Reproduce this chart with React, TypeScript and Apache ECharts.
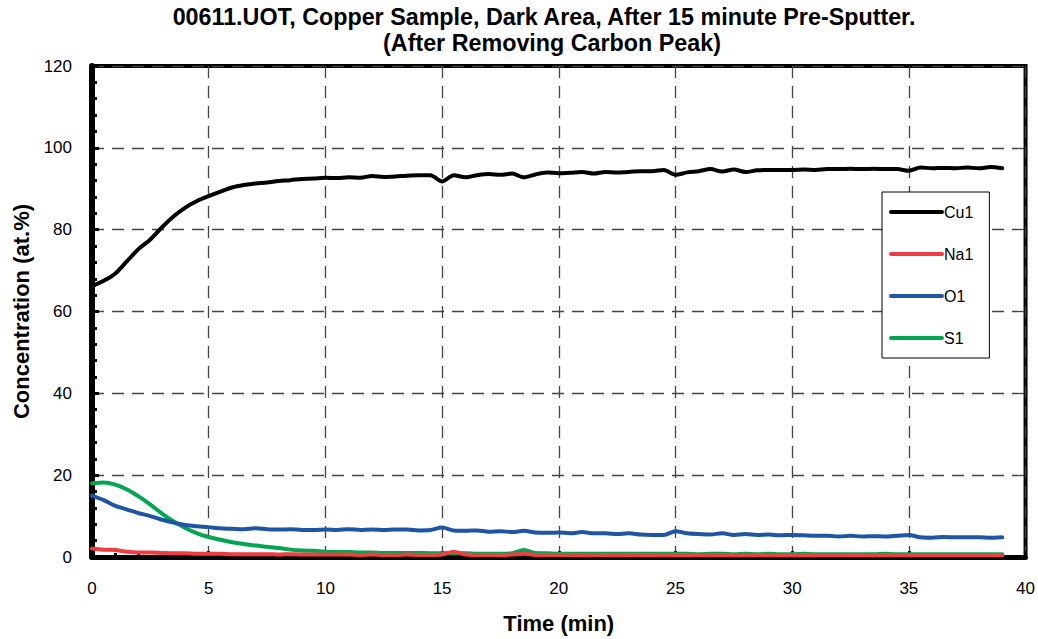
import React, { useEffect, useRef } from "react";
import * as echarts from "echarts";

const TITLE_LINE1 = "00611.UOT, Copper Sample, Dark Area, After 15 minute Pre-Sputter.";
const TITLE_LINE2 = "(After Removing Carbon Peak)";
const X_NAME = "Time (min)";
const Y_NAME = "Concentration (at.%)";
const STEP_MIN = 0.5;

const cu1 = [
  66.2, 67.5, 69.3, 72.3, 75.3, 77.6, 80.6, 83.3, 85.4, 87.0,
  88.2, 89.3, 90.3, 90.9, 91.3, 91.5, 91.9, 92.1, 92.4, 92.5,
  92.7, 92.6, 92.8, 92.7, 93.1, 92.9, 93.0, 93.2, 93.3, 93.3,
  91.8, 93.3, 92.8, 93.3, 93.6, 93.4, 93.7, 92.8, 93.5, 94.0,
  93.8, 93.9, 94.1, 93.7, 94.1, 94.0, 94.1, 94.3, 94.3, 94.6,
  93.4, 94.0, 94.3, 94.8, 94.2, 94.7, 94.1, 94.5, 94.6, 94.6,
  94.6, 94.7, 94.6, 94.8, 94.8, 94.9, 94.8, 94.9, 94.8, 94.8,
  94.4, 95.2, 95.0, 95.1, 95.0, 95.2, 95.0, 95.3, 95.0,
];
const na1 = [
  2.1, 1.8, 1.7, 1.3, 1.1, 1.1, 1.0, 0.9, 0.9, 0.8,
  0.8, 0.8, 0.7, 0.7, 0.7, 0.7, 0.6, 0.7, 0.6, 0.6,
  0.6, 0.6, 0.6, 0.5, 0.6, 0.5, 0.5, 0.6, 0.5, 0.5,
  0.6, 1.3, 0.6, 0.5, 0.5, 0.5, 0.6, 0.8, 0.5, 0.5,
  0.5, 0.5, 0.4, 0.5, 0.5, 0.4, 0.5, 0.4, 0.4, 0.5,
  0.4, 0.4, 0.5, 0.4, 0.4, 0.4, 0.4, 0.5, 0.4, 0.4,
  0.4, 0.4, 0.4, 0.4, 0.4, 0.4, 0.4, 0.4, 0.4, 0.4,
  0.4, 0.4, 0.4, 0.4, 0.4, 0.4, 0.4, 0.4, 0.4,
];
const o1 = [
  15.0, 13.9, 12.5, 11.6, 10.7, 10.0, 9.1, 8.4, 7.8, 7.5,
  7.3, 7.0, 6.9, 6.8, 7.0, 6.8, 6.7, 6.8, 6.6, 6.6,
  6.7, 6.6, 6.8, 6.6, 6.7, 6.6, 6.7, 6.7, 6.5, 6.6,
  7.2, 6.5, 6.4, 6.5, 6.2, 6.3, 6.1, 6.4, 6.0, 5.9,
  6.0, 5.8, 6.1, 5.8, 5.8, 5.6, 5.8, 5.5, 5.4, 5.4,
  6.3, 5.8, 5.6, 5.5, 5.8, 5.4, 5.6, 5.4, 5.5, 5.3,
  5.4, 5.3, 5.2, 5.2, 5.0, 5.2, 5.0, 5.1, 5.0, 5.2,
  5.4, 4.8, 4.7, 4.9, 4.8, 4.8, 4.8, 4.7, 4.8,
];
const s1 = [
  18.0, 18.2, 17.7, 16.5, 14.8, 12.8, 10.6, 8.7, 7.1, 5.8,
  4.9, 4.2, 3.6, 3.2, 2.8, 2.5, 2.2, 1.8, 1.6, 1.5,
  1.3, 1.2, 1.2, 1.1, 1.1, 1.0, 1.0, 1.0, 1.0, 0.9,
  0.9, 0.9, 0.9, 0.8, 0.8, 0.8, 0.9, 1.7, 1.0, 0.9,
  0.8, 0.8, 0.8, 0.8, 0.8, 0.8, 0.8, 0.8, 0.8, 0.8,
  0.8, 0.8, 0.7, 0.8, 0.8, 0.7, 0.8, 0.7, 0.8, 0.7,
  0.7, 0.8, 0.7, 0.7, 0.7, 0.7, 0.7, 0.7, 0.8, 0.7,
  0.7, 0.7, 0.7, 0.7, 0.7, 0.7, 0.7, 0.7, 0.7,
];

const seriesNames = ["Cu1", "Na1", "O1", "S1"];
const seriesColors = ["#000000", "#ef3e42", "#1f55a5", "#00a651"];
const seriesValues = [cu1, na1, o1, s1];

const FONT = "'Liberation Sans', Arial, sans-serif";

export default function App() {
  const ref = useRef<HTMLDivElement>(null);
  useEffect(() => {
    if (!ref.current) return;
    const chart = echarts.init(ref.current, null, { renderer: "svg" });
    const toPairs = (vals: number[]) => vals.map((v, i) => [i * STEP_MIN, v]);
    const titleFont = {
      fontFamily: FONT,
      fontWeight: "bold",
      fontSize: 23.3,
      lineHeight: 26,
      color: "#000",
    };
    chart.setOption({
      animation: false,
      backgroundColor: "#ffffff",
      title: [
        {
          text: TITLE_LINE1,
          left: 539,
          textAlign: "center",
          top: -1,
          textStyle: titleFont,
        },
        {
          text: TITLE_LINE2,
          left: 547,
          textAlign: "center",
          top: 25,
          textStyle: titleFont,
        },
      ],
      grid: {
        left: 92,
        right: 10,
        top: 66,
        bottom: 82,
        show: true,
        borderColor: "#000",
        borderWidth: 4,
        backgroundColor: "transparent",
      },
      legend: {
        orient: "vertical",
        left: 882,
        top: 192,
        data: seriesNames,
        backgroundColor: "#ffffff",
        borderColor: "#000",
        borderWidth: 1,
        padding: [12, 16, 12, 7],
        itemWidth: 51,
        itemHeight: 14,
        itemGap: 26,
        itemStyle: { color: "transparent", borderColor: "transparent", borderWidth: 0, opacity: 0 },
        lineStyle: { width: 4, cap: "round" },
        textStyle: { fontFamily: FONT, fontSize: 16, color: "#000", padding: [0, 0, 0, -3] },
      },
      xAxis: {
        type: "value",
        min: 0,
        max: 40,
        interval: 5,
        name: X_NAME,
        nameLocation: "middle",
        nameGap: 55,
        nameTextStyle: { fontFamily: FONT, fontWeight: "bold", fontSize: 22, color: "#000" },
        axisLine: { show: true, lineStyle: { color: "#000", width: 5 } },
        axisTick: { show: true, inside: true, length: 6, lineStyle: { color: "#000", width: 3 } },
        minorTick: { show: true, splitNumber: 5, length: 4, lineStyle: { color: "#000", width: 3 } },
        axisLabel: { fontFamily: FONT, fontSize: 17, color: "#000", margin: 23 },
        splitLine: { show: true, lineStyle: { color: "#444", width: 1.3, type: [12, 8] } },
      },
      yAxis: {
        type: "value",
        min: 0,
        max: 120,
        interval: 20,
        name: Y_NAME,
        nameLocation: "middle",
        nameGap: 60,
        nameTextStyle: { fontFamily: FONT, fontWeight: "bold", fontSize: 22, color: "#000" },
        axisLine: { show: true, lineStyle: { color: "#000", width: 6 } },
        axisTick: { show: true, inside: true, length: 7, lineStyle: { color: "#000", width: 3 } },
        minorTick: { show: true, splitNumber: 5, length: 5, lineStyle: { color: "#000", width: 3 } },
        axisLabel: { fontFamily: FONT, fontSize: 17, color: "#000", margin: 20 },
        splitLine: { show: true, lineStyle: { color: "#444", width: 1.3, type: [12, 8] } },
      },
      series: seriesNames.map((name, k) => ({
        name,
        type: "line",
        data: toPairs(seriesValues[k]),
        showSymbol: false,
        symbol: "none",
        smooth: 0.3,
        z: 10 - k,
        color: seriesColors[k],
        lineStyle: { color: seriesColors[k], width: 4, cap: "round", join: "round" },
      })),
    });
    return () => chart.dispose();
  }, []);
  return <div ref={ref} style={{ width: 1038, height: 639, position: "absolute", left: 0, top: 0 }} />;
}
